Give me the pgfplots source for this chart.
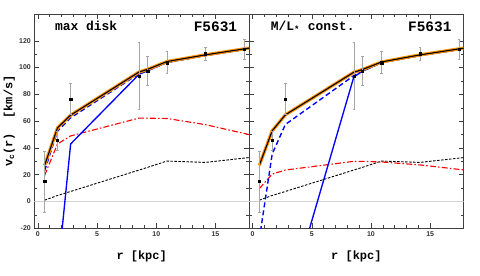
\documentclass[border=0pt]{standalone}
\usepackage{fontspec}
\setmainfont{Liberation Mono}
\newfontfamily\tickfont{Liberation Sans}
\usepackage{pgfplots}
\usepackage{pgfplotstable}
\pgfplotsset{compat=1.18}
\definecolor{myorange}{RGB}{255,145,0}

\pgfplotstableread{
r v e
0.57 15 22.7
1.66 45.5 7
2.77 76.5 11.5
8.55 93.6 25
9.27 97.4 10.7
10.9 103.7 8.2
14.15 110.4 5
17.45 113.6 7.5
}\obs

\pgfplotstableread{
r tot bd bs red gas
0.57 27 23 nan 19.5 1
1.66 55 52.5 -55 43 4.5
2.77 64.5 62.5 43 49 7.5
8.55 96.7 95.5 95 62.3 23.5
9.27 98.7 97.7 97.7 62.2 25.5
10.9 104.5 103.8 103.8 62 30.2
14.15 109.5 109 109 57.4 29.2
17.83 114.5 114 114 50 32.8
}\maxdisk

\pgfplotstableread{
r tot bd bs red gas
0.57 27 -28 nan 9.6 1
1.66 52.8 35.5 nan 20.5 4.5
2.77 64.7 57.5 -82 23.5 7.5
8.55 96.5 94 93 30 23.5
9.27 98.5 97.3 97.3 30 25.5
10.9 104.2 103.7 103.7 29.5 30.2
14.15 109.5 109 109 27.3 29.2
17.83 114.5 114 114 23.6 32.8
}\mlconst

\pgfplotsset{
  panel/.style={
    scale only axis, width=214.7bp, height=214.3bp,
    anchor=south west,
    xmin=-0.3, xmax=17.83, ymin=-20, ymax=140,
    xtick={0,5,10,15}, minor x tick num=4,
    ytick={-20,0,20,40,60,80,100,120}, minor y tick num=1,
    tick align=inside, major tick length=5bp, minor tick length=3bp,
    axis line style={black!75, line width=0.8bp},
    tick style={black!75, line width=0.5bp},
    ticklabel style={font=\tickfont\bfseries\fontsize{7}{8}\selectfont, black!80},
    /pgf/number format/assume math mode=true,
    xlabel style={at={(axis description cs:0.5,-0.13)}, anchor=center,
      font=\bfseries\fontsize{12}{14}\selectfont},
    ylabel style={at={(axis description cs:-0.117,0.5)}, anchor=center,
      font=\bfseries\fontsize{12}{14}\selectfont},
    xlabel={r [kpc]},
  },
  zero/.style={gray!35, line width=0.6bp},
  gasl/.style={black, line width=0.9bp, dash pattern=on 2.5bp off 1.5bp},
  redl/.style={red, line width=1.1bp, dash pattern=on 6bp off 2.2bp on 1.5bp off 2.2bp},
  bsl/.style={blue, line width=1.35bp},
  bdl/.style={blue, line width=1.4bp, dash pattern=on 5bp off 3bp},
  orl/.style={myorange, line width=3.2bp},
  totl/.style={black, line width=1.1bp},
  obsl/.style={only marks, mark=square*, mark size=1.1bp, black,
    error bars/.cd, y dir=both, y explicit,
    error bar style={gray!70, line width=0.6bp},
    error mark options={gray!70, rotate=90, mark size=1.2bp, line width=0.5bp}},
}

\begin{document}
\begin{tikzpicture}
\path[use as bounding box] (0,0) rectangle (480bp,276bp);

\begin{axis}[panel, at={(34.3bp,47.7bp)},
  ylabel={v\textsubscript{c}(r)\ \ [km/s]}]
\addplot[zero] coordinates {(-0.3,0) (17.83,0)};
\addplot[gasl] table[x=r,y=gas] {\maxdisk};
\addplot[redl] table[x=r,y=red] {\maxdisk};
\addplot[bsl] table[x=r,y=bs] {\maxdisk};
\addplot[bdl] table[x=r,y=bd] {\maxdisk};
\addplot[orl] table[x=r,y=tot] {\maxdisk};
\addplot[totl] table[x=r,y=tot] {\maxdisk};
\addplot[obsl] table[x=r,y=v,y error=e] {\obs};
\node[anchor=base west, inner sep=0pt, font=\bfseries\fontsize{13}{15}\selectfont]
  at (rel axis cs:0.0955,0.925) {max disk};
\node[anchor=base east, inner sep=0pt, font=\bfseries\fontsize{14.5}{16}\selectfont]
  at (rel axis cs:0.9455,0.917) {F5631};
\end{axis}

\begin{axis}[panel, at={(249bp,47.7bp)}, yticklabel=\empty]
\addplot[zero] coordinates {(-0.3,0) (17.83,0)};
\addplot[gasl] table[x=r,y=gas] {\mlconst};
\addplot[redl] table[x=r,y=red] {\mlconst};
\addplot[bsl] table[x=r,y=bs] {\mlconst};
\addplot[bdl] table[x=r,y=bd] {\mlconst};
\addplot[orl] table[x=r,y=tot] {\mlconst};
\addplot[totl] table[x=r,y=tot] {\mlconst};
\addplot[obsl] table[x=r,y=v,y error=e] {\obs};
\node[anchor=base west, inner sep=0pt, font=\bfseries\fontsize{13}{15}\selectfont]
  at (rel axis cs:0.101,0.923) {M/L\textsubscript{*} const.};
\node[anchor=base east, inner sep=0pt, font=\bfseries\fontsize{14.5}{16}\selectfont]
  at (rel axis cs:0.944,0.917) {F5631};
\end{axis}
\end{tikzpicture}
\end{document}
